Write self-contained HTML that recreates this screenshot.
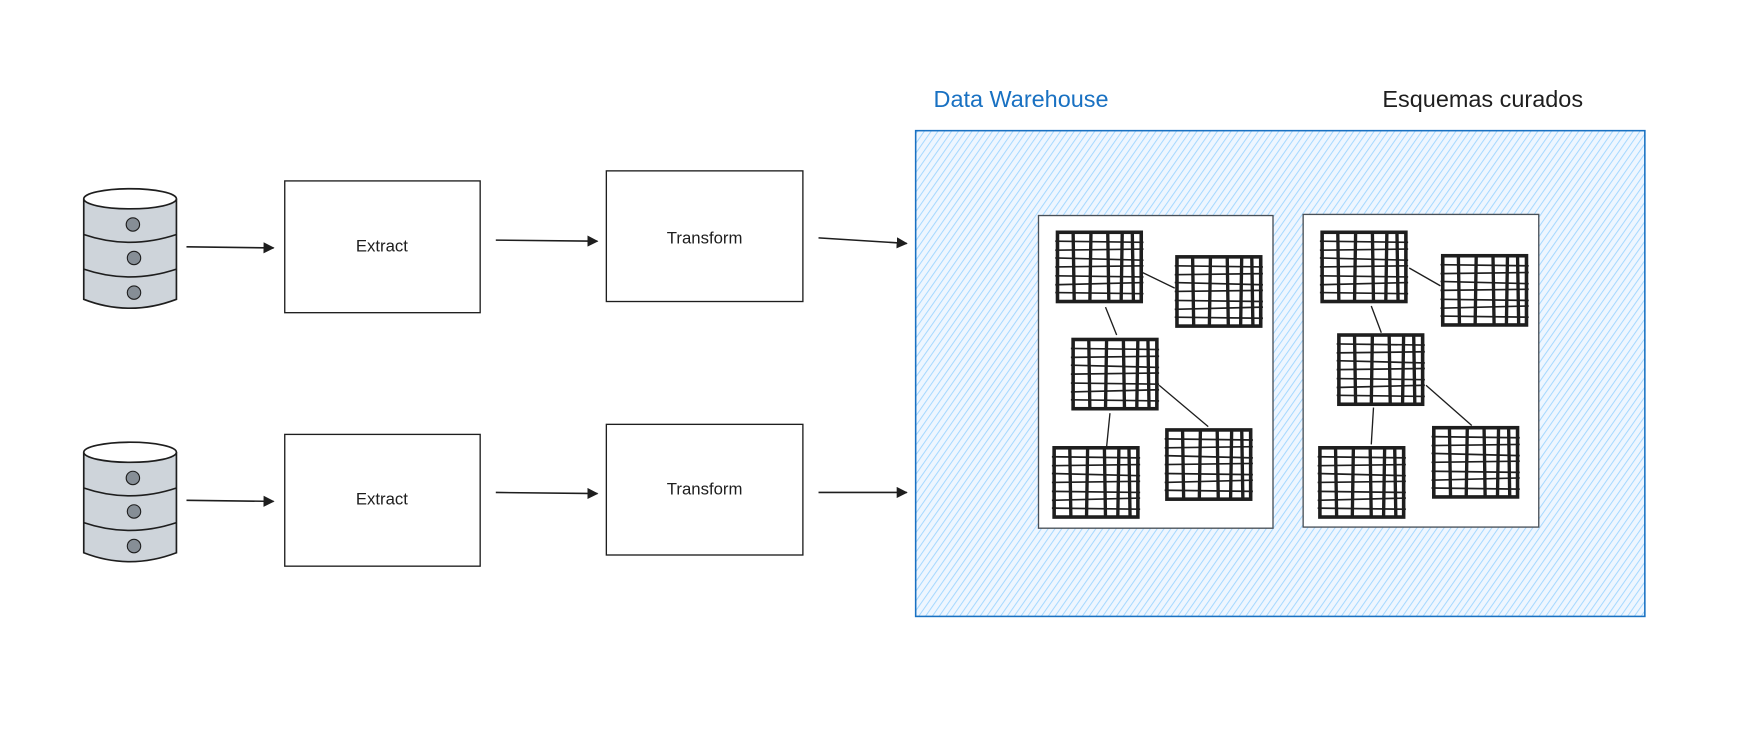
<!DOCTYPE html>
<html><head><meta charset="utf-8"><style>html,body{margin:0;padding:0;background:#fff;}svg{display:block}</style></head>
<body>
<svg width="1742" height="730" viewBox="0 0 1560 653.7" xmlns="http://www.w3.org/2000/svg" font-family="'Liberation Sans', sans-serif">
<defs>
<pattern id="h" width="5" height="5" patternUnits="userSpaceOnUse" patternTransform="rotate(35)">
<rect width="5" height="5" fill="#eef6ff"/>
<line x1="0" y1="0" x2="0" y2="5" stroke="#a5d8ff" stroke-width="1.8"/>
</pattern>
<marker id="a" markerWidth="10" markerHeight="10" refX="9" refY="5" orient="auto" markerUnits="userSpaceOnUse"><path d="M0,0 L18,5 L0,10 Z" transform="scale(0.55,1)" fill="#1e1e1e"/></marker>
<g id="cyl">
<path d="M75,178 L75,268 Q116,284 158,268 L158,178" fill="#ced4da" stroke="#1e1e1e" stroke-width="1.5"/>
<path d="M75,210 Q116,224 158,210 M75,241 Q116,255 158,241" fill="none" stroke="#1e1e1e" stroke-width="1.5"/>
<ellipse cx="116.5" cy="178" rx="41.5" ry="9" fill="#fff" stroke="#1e1e1e" stroke-width="1.5"/>
<circle cx="119" cy="201" r="6" fill="#868e96" stroke="#1e1e1e"/>
<circle cx="120" cy="231" r="6" fill="#868e96" stroke="#1e1e1e"/>
<circle cx="120" cy="262" r="6" fill="#868e96" stroke="#1e1e1e"/>
</g>
</defs>
<use href="#cyl"/>
<use href="#cyl" y="227"/>
<g fill="#fff" stroke="#1e1e1e" stroke-width="1.2">
<rect x="255" y="162" width="175" height="118"/>
<rect x="543" y="153" width="176" height="117"/>
<rect x="255" y="389" width="175" height="118"/>
<rect x="543" y="380" width="176" height="117"/>
</g>
<g font-size="15" fill="#1e1e1e" text-anchor="middle">
<text x="342" y="225">Extract</text>
<text x="631" y="218">Transform</text>
<text x="342" y="452">Extract</text>
<text x="631" y="443">Transform</text>
</g>
<g stroke="#1e1e1e" stroke-width="1.4" marker-end="url(#a)">
<line x1="167" y1="221" x2="245" y2="222"/>
<line x1="444" y1="215" x2="535" y2="216"/>
<line x1="733" y1="213" x2="812" y2="218"/>
<line x1="167" y1="448" x2="245" y2="449"/>
<line x1="444" y1="441" x2="535" y2="442"/>
<line x1="733" y1="441" x2="812" y2="441"/>
</g>
<rect x="820" y="117" width="653" height="435" fill="url(#h)" stroke="#1971c2" stroke-width="1.4"/>
<text x="836" y="96" font-size="21" fill="#1971c2">Data Warehouse</text>
<text x="1238" y="96" font-size="21" fill="#1e1e1e">Esquemas curados</text>
<rect x="930" y="193" width="210" height="280" fill="#fff" stroke="#495057" stroke-width="1.2"/>
<rect x="1167" y="192" width="211" height="280" fill="#fff" stroke="#495057" stroke-width="1.2"/>
<g stroke="#1e1e1e" stroke-width="1.2">
<line x1="1023" y1="244" x2="1052" y2="258"/><line x1="990" y1="275" x2="1000" y2="300"/>
<line x1="1038" y1="345" x2="1082" y2="382"/><line x1="994" y1="370" x2="991" y2="400"/>
<line x1="1262" y1="240" x2="1290" y2="256"/><line x1="1228" y1="274" x2="1237" y2="298"/>
<line x1="1277" y1="345" x2="1318" y2="381"/><line x1="1230" y1="365" x2="1228" y2="398"/>
</g>
<defs>
<g id="t">
<rect x="0" y="0" width="75" height="62" fill="none" stroke="#1e1e1e" stroke-width="3.2"/>
<g stroke="#1e1e1e" stroke-width="3">
<line x1="14" y1="-1" x2="15" y2="63"/><line x1="30" y1="-1" x2="29" y2="63"/><line x1="45" y1="-1" x2="46" y2="63"/><line x1="58" y1="-1" x2="57" y2="63"/><line x1="67" y1="0" x2="68" y2="62"/>
</g>
<g stroke="#1e1e1e" stroke-width="1.5">
<line x1="-2" y1="8" x2="77" y2="9"/><line x1="-2" y1="16" x2="77" y2="15"/><line x1="-2" y1="23" x2="77" y2="25"/><line x1="-2" y1="31" x2="77" y2="30"/><line x1="-2" y1="39" x2="77" y2="40"/><line x1="-2" y1="47" x2="77" y2="45"/><line x1="-2" y1="54" x2="77" y2="55"/>
</g>
</g>
</defs>
<use href="#t" x="947" y="208"/><use href="#t" x="1054" y="230"/><use href="#t" x="961" y="304"/><use href="#t" x="944" y="401"/><use href="#t" x="1045" y="385"/>
<use href="#t" x="1184" y="208"/><use href="#t" x="1292" y="229"/><use href="#t" x="1199" y="300"/><use href="#t" x="1182" y="401"/><use href="#t" x="1284" y="383"/>
</svg>
</body></html>
